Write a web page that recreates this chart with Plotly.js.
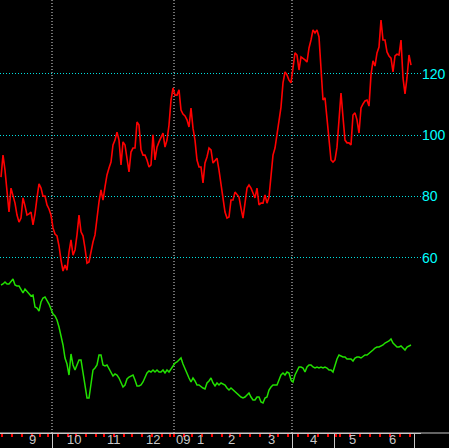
<!DOCTYPE html>
<html>
<head>
<meta charset="utf-8">
<script src="https://cdn.plot.ly/plotly-3.0.1.min.js"></script>
<style>
  html, body { margin: 0; padding: 0; background: #000; }
  #chart { width: 449px; height: 448px; }
</style>
</head>
<body>
<div id="chart"></div>
<script>
// Daily values, Aug 22 2008 .. end of June 2009 (trading days)
const red = [
  86.3, 93.5, 88.6, 80.5, 74.9, 82.7, 80.1, 77.8, 73.9, 71.6,
  72.9, 79.5, 76.9, 73.9, 74.3, 74.9, 70.7, 74.3, 79.5, 84.1,
  82.7, 80.1, 80.1, 77.2, 75.9, 73.9, 69.7, 67.7, 67.1, 63.8,
  59.2, 55.6, 57.6, 55.9, 61.8, 65.8, 60.8, 62.5, 67.4, 73.9,
  68.4, 67.1, 63.1, 58.2, 58.6, 62.5, 65.1, 67.4, 73.9, 78.2,
  82.1, 78.8, 83.1, 87.0, 89.3, 91.2, 96.8, 98.4, 101.0, 98.4,
  90.3, 97.8, 96.8, 91.9, 88.0, 94.5, 95.8, 95.8, 104.3, 103.3,
  95.2, 93.5, 93.5, 91.9, 89.6, 90.3, 100.1, 91.9, 96.1, 97.8,
  99.4, 100.7, 96.1, 98.4, 103.3, 111.5, 115.4, 113.1, 113.1, 114.8,
  108.2, 106.9, 106.3, 105.0, 102.7, 108.9, 102.3, 98.4, 91.9, 89.6,
  89.6, 84.4, 90.9, 92.9, 95.8, 95.2, 90.9, 91.9, 92.5, 88.6,
  84.4, 78.8, 74.9, 72.9, 73.3, 78.8, 78.8, 81.4, 80.5, 79.8,
  76.2, 72.9, 77.8, 82.7, 83.7, 82.7, 81.1, 79.5, 82.7, 77.2,
  77.8, 77.8, 80.5, 77.8, 79.8, 87.0, 93.5, 95.8, 100.1, 105.0,
  109.2, 117.1, 120.7, 119.7, 118.0, 117.1, 121.3, 126.9, 126.2, 121.3,
  125.6, 125.2, 124.6, 123.9, 128.5, 131.1, 134.4, 133.4, 134.4, 132.1,
  120.3, 111.5, 112.2, 105.9, 99.4, 91.9, 91.2, 91.9, 96.1, 105.0,
  113.8, 105.9, 98.4, 97.5, 97.5, 96.8, 106.6, 107.3, 105.0, 100.7,
  108.9, 110.2, 111.2, 111.5, 109.5, 119.7, 124.3, 122.6, 126.9, 128.8,
  137.6, 131.1, 131.1, 127.2, 125.9, 125.2, 120.7, 125.9, 126.5, 126.2,
  131.1, 118.7, 113.5, 118.7, 126.2, 122.9
];
// Index series (unlabelled scale), same trading days
const green = [
  12666, 12713, 12809, 12713, 12713, 12856, 12951, 12666, 12618, 12618,
  12476, 12286, 12476, 12381, 12238, 12143, 12190, 11620, 11572, 11430,
  11858, 12048, 12095, 11953, 11762, 11525, 11287, 11192, 11002, 10669,
  10288, 9813, 9195, 8909, 8386, 9385, 8862, 8624, 8862, 9100,
  9100, 8529, 8054, 7293, 7293, 7911, 8624, 8719, 8862, 9337,
  9337, 8862, 8814, 8862, 8672, 8482, 8339, 8434, 8386, 8244,
  8054, 7816, 7911, 8196, 8291, 8339, 8386, 8149, 7863, 7863,
  7911, 8054, 8291, 8482, 8577, 8529, 8624, 8529, 8624, 8529,
  8529, 8624, 8482, 8624, 8529, 8672, 8767, 8957, 9005, 9100,
  9195, 8909, 8672, 8386, 8244, 8054, 8244, 8101, 7911, 7911,
  7816, 7768, 7721, 8006, 8101, 8244, 8006, 7863, 8006, 7911,
  8006, 7958, 7911, 7768, 7673, 7768, 7673, 7578, 7531, 7435,
  7340, 7293, 7340, 7435, 7531, 7340, 7198, 7198, 7340, 7340,
  7103, 7055, 7293, 7340, 7673, 7816, 7911, 7911, 7911, 8149,
  8386, 8482, 8386, 8529, 8482, 8149, 8054, 8386, 8624, 8767,
  8767, 8719, 8529, 8767, 8862, 8862, 8767, 8719, 8767, 8719,
  8767, 8719, 8767, 8719, 8624, 8624, 8529, 8862, 9147, 9337,
  9290, 9242, 9242, 9147, 9147, 9147, 9052, 9195, 9242, 9242,
  9195, 9290, 9337, 9337, 9433, 9480, 9575, 9670, 9718, 9718,
  9765, 9813, 9908, 9956, 10003, 10098, 9908, 9813, 9718, 9718,
  9765, 9670, 9575, 9718, 9765, 9813
];
// Trading days per month: Aug (part), Sep .. Jun
const monthDays   = [6, 20, 22, 18, 21, 19, 19, 21, 21, 18, 22];
const monthLabels = ['', '9', '10', '11', '12', '1', '2', '3', '4', '5', '6'];
const yearLabel = '09';
const yearMonth = '1';
const gridMonths = ['10', '1', '4'];
// first trading day index of each week
const weekStarts = [1, 6, 11, 16, 20, 24, 29, 34, 38, 43, 48, 52, 57, 62, 66, 71, 76, 81, 85, 87,
  92, 96, 101, 106, 111, 115, 120, 125, 130, 135, 139, 144, 149, 154, 159, 164, 168, 170,
  175, 180, 185, 190, 195, 200, 205];
const priceTicks = [60, 80, 100, 120];

// ---- derived axis helpers ----
const xs = red.map((_, i) => i);
const starts = [];
let c = 0;
monthDays.forEach(d => { starts.push(c); c += d; });
const ends = starts.map((s, k) => s + monthDays[k]);
const boundaries = [];
const labels = [];
monthLabels.forEach((lab, k) => {
  if (!lab) return;
  boundaries.push(starts[k] - 0.5);
  labels.push({ lab, mid: (starts[k] + ends[k] - 1) / 2, start: starts[k] - 0.5 });
});
boundaries.push(ends[ends.length - 1] - 0.5);

const textCol = '#c8c8c8';
const fontFam = '"Liberation Sans Narrow", "Liberation Sans", Arial, sans-serif';
const bottomY = -15 / 433;   // bottom edge of the figure in paper units

const labelFont = { color: textCol, size: 13, family: fontFam };
const annotations = [];
labels.forEach(l => {
  const base = { xref: 'x', y: bottomY, yref: 'paper', yanchor: 'bottom', borderpad: 0,
    showarrow: false, font: labelFont };
  if (l.lab === yearMonth) {
    annotations.push(Object.assign({}, base, { x: l.start, xanchor: 'left', xshift: 1, text: yearLabel }));
    annotations.push(Object.assign({}, base, { x: l.mid, xanchor: 'center', xshift: 7, text: l.lab }));
  } else {
    annotations.push(Object.assign({}, base, { x: l.mid, xanchor: 'center', text: l.lab }));
  }
});

const shapes = [];
labels.filter(l => gridMonths.includes(l.lab)).forEach(l => {
  shapes.push({ type: 'line', xref: 'x', yref: 'paper', x0: l.start, x1: l.start, y0: 0, y1: 1,
    line: { color: '#e0e0e0', width: 1, dash: '1px,2px' }, layer: 'below' });
});
// extend bottom axis line across the right label strip
shapes.push({ type: 'line', xref: 'paper', yref: 'paper', x0: 0, x1: 1.1, y0: 0, y1: 0,
  line: { color: textCol, width: 1 } });

const traces = [
  { x: xs, y: green, type: 'scatter', mode: 'lines', yaxis: 'y2',
    line: { color: '#22e000', width: 1.5 }, hoverinfo: 'skip' },
  { x: xs, y: red, type: 'scatter', mode: 'lines', yaxis: 'y',
    line: { color: '#ff0000', width: 1.6 }, hoverinfo: 'skip' }
];

const layout = {
  width: 449, height: 448,
  margin: { l: 0, r: 28, t: 0, b: 15, pad: 0 },
  paper_bgcolor: '#000', plot_bgcolor: '#000',
  showlegend: false,
  xaxis: {
    range: [-0.5, 210], showgrid: false, zeroline: false,
    showline: true, linecolor: textCol, linewidth: 1,
    tickmode: 'array', tickvals: boundaries, ticktext: boundaries.map(() => ''),
    ticks: 'outside', ticklen: 15, tickwidth: 1, tickcolor: textCol, showticklabels: false,
    minor: { tickmode: 'array', tickvals: weekStarts.map(w => w - 0.5), ticks: 'outside',
      ticklen: 3, tickwidth: 2, tickcolor: '#ff0000', showgrid: false }
  },
  yaxis: {
    range: [2.68, 144.18], side: 'right', zeroline: false, showline: false,
    tickmode: 'array', tickvals: priceTicks, ticktext: priceTicks.map(String),
    ticks: '', showgrid: true, gridcolor: '#00e0e0', gridwidth: 1, griddash: '1px,2px',
    tickfont: { color: '#00ffff', size: 14, family: fontFam }
  },
  yaxis2: {
    overlaying: 'y', range: [5628.5, 26217], visible: false
  },
  annotations, shapes
};

Plotly.newPlot('chart', traces, layout, { staticPlot: true, displayModeBar: false });
</script>
</body>
</html>
